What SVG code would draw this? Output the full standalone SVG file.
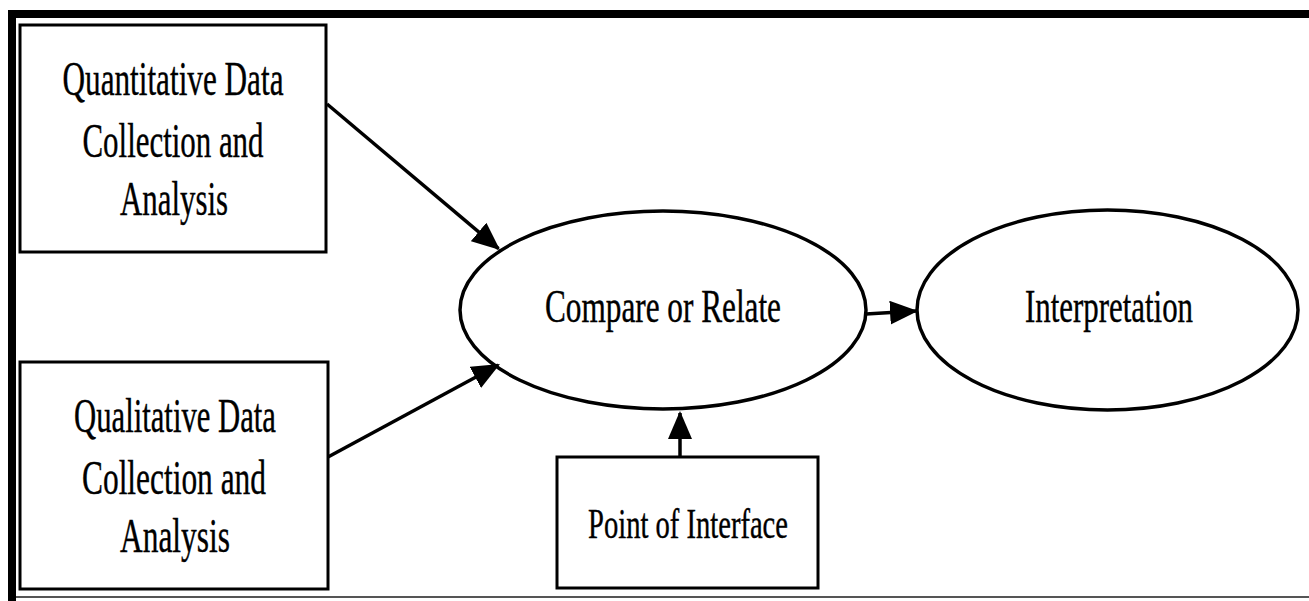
<svg xmlns="http://www.w3.org/2000/svg" width="1309" height="601" viewBox="0 0 1309 601">
  <style>
    .box { fill: #fff; stroke: #000; stroke-width: 3; }
    .ell { fill: #fff; stroke: #000; stroke-width: 3.5; }
    .lbl { font-family: "Liberation Serif", "Times New Roman", serif; fill: #000; stroke: #000; stroke-width: 0.4; text-anchor: middle; }
    .big { font-size: 48px; }
    .mid { font-size: 46px; }
    .sm { font-size: 42px; }
    .conn { stroke: #000; stroke-width: 3.5; fill: none; marker-end: url(#ah); }
  </style>
  <defs>
    <marker id="ah" markerUnits="userSpaceOnUse" markerWidth="28" markerHeight="24" refX="26" refY="12" orient="auto">
      <path d="M0,0 L28,12 L0,24 Z" fill="#000"/>
    </marker>
  </defs>
  <rect x="0" y="0" width="1309" height="601" fill="#fff"/>
  <g id="frame">
    <rect x="8" y="10" width="1301" height="8" fill="#000"/>
    <rect x="8" y="10" width="8" height="591" fill="#000"/>
    <rect x="16" y="596" width="1293" height="2" fill="#555"/>
  </g>
  <g id="quant">
    <rect class="box" x="20" y="25" width="306" height="227"/>
    <text class="lbl big" x="173" y="95" textLength="221" lengthAdjust="spacingAndGlyphs">Quantitative Data</text>
    <text class="lbl big" x="173" y="157" textLength="181" lengthAdjust="spacingAndGlyphs">Collection and</text>
    <text class="lbl big" x="174" y="215" textLength="108" lengthAdjust="spacingAndGlyphs">Analysis</text>
  </g>
  <g id="qual">
    <rect class="box" x="20" y="362" width="308" height="227"/>
    <text class="lbl big" x="175" y="432" textLength="202" lengthAdjust="spacingAndGlyphs">Qualitative Data</text>
    <text class="lbl big" x="174" y="494" textLength="184" lengthAdjust="spacingAndGlyphs">Collection and</text>
    <text class="lbl big" x="175" y="552" textLength="110" lengthAdjust="spacingAndGlyphs">Analysis</text>
  </g>
  <g id="compare">
    <ellipse class="ell" cx="663" cy="310" rx="203" ry="99"/>
    <text class="lbl mid" x="663" y="322" textLength="236" lengthAdjust="spacingAndGlyphs">Compare or Relate</text>
  </g>
  <g id="interp">
    <ellipse class="ell" cx="1107.5" cy="310" rx="190.5" ry="100"/>
    <text class="lbl mid" x="1109" y="322" textLength="168" lengthAdjust="spacingAndGlyphs">Interpretation</text>
  </g>
  <g id="poi">
    <rect class="box" x="557" y="457" width="261" height="131"/>
    <text class="lbl sm" x="688" y="538" textLength="200" lengthAdjust="spacingAndGlyphs">Point of Interface</text>
  </g>
  <g id="connectors">
    <line class="conn" x1="327" y1="104" x2="498.5" y2="248.7"/>
    <line class="conn" x1="328" y1="457" x2="498.2" y2="365"/>
    <line class="conn" x1="866" y1="314" x2="916" y2="311.1"/>
    <line class="conn" x1="680" y1="457" x2="680" y2="413"/>
  </g>
</svg>
